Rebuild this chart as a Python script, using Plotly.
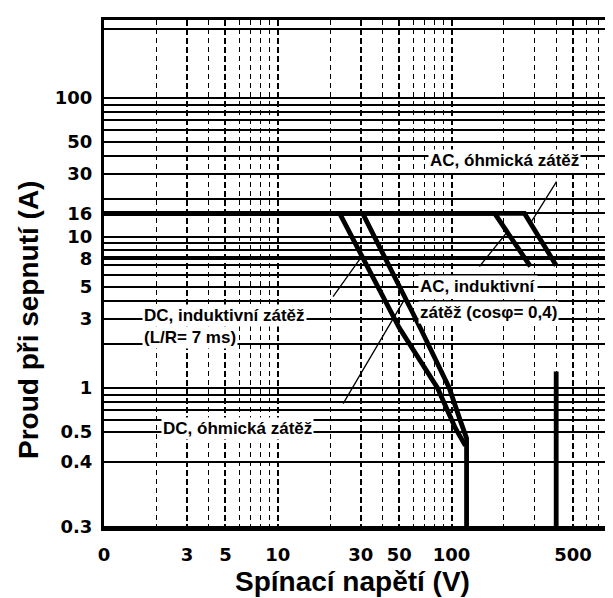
import numpy as np
import plotly.graph_objects as go

# ---- tick labels (as printed on the chart) ----
x_tick_vals = [1, 3, 5, 10, 30, 50, 100, 500]
x_tick_text = ["0", "3", "5", "10", "30", "50", "100", "500"]
# positions (A, on the log scale) at which each printed label sits on the scanned axis
y_tick_vals = [0.11, 0.31, 0.5, 1, 3, 5, 7.8, 11, 16, 30, 50, 100]
y_tick_text = ["0.3", "0.4", "0.5", "1", "3", "5", "8", "10", "16", "30", "50", "100"]
x_minor_vals = [2, 4, 6, 7, 8, 9, 20, 40, 60, 70, 80, 90, 200, 300, 400, 600, 700, 800, 900]
y_minor_vals = [0.6, 0.7, 0.8, 0.9, 2, 4, 6, 7, 8, 9, 10, 20, 40, 60, 70, 80, 90, 300]

# ---- curves: switching voltage (V) vs switching current (A) ----
dc_ind_v = [1, 22.7, 50, 83, 105, 120]
dc_ind_i = [16, 16, 2.6, 1.0, 0.53, 0.4]
dc_res_v = [1, 30.8, 66, 97, 112, 122, 122]
dc_res_i = [16, 16, 2.6, 1.0, 0.6, 0.45, 0.1]
ac_ind_v = [1, 177, 284]
ac_ind_i = [16, 16, 6.9]
ac_res_v = [1, 263, 400]
ac_res_i = [16, 16, 7.0]
ac_lim_v = [400, 400]
ac_lim_i = [1.3, 0.1]

W, H = 613, 598
ML, MR, MT, MB = 96, 0, 12, 78
PW, PH = W - ML - MR, H - MT - MB

TEXTF = "Liberation Sans, Arial, sans-serif"
TICKF = "DejaVu Sans, Verdana, sans-serif"


def px2paper(px, py):
    return (px - ML) / PW, (H - MB - py) / PH


def tip_on(vs, is_, i_target):
    v = np.log10(np.array(vs[1:], dtype=float))
    i = np.log10(np.array(is_[1:], dtype=float))
    lv = float(np.interp(np.log10(i_target), i[::-1], v[::-1]))
    return lv, float(np.log10(i_target))


fig = go.Figure()
line_style = dict(color="black", width=4.8)
for name, xv, yv in [
    ("DC, induktivní zátěž", dc_ind_v, dc_ind_i),
    ("DC, óhmická zátěž", dc_res_v, dc_res_i),
    ("AC, induktivní zátěž", ac_ind_v, ac_ind_i),
    ("AC, óhmická zátěž", ac_res_v, ac_res_i),
    ("AC limit", ac_lim_v, ac_lim_i),
]:
    fig.add_trace(go.Scatter(x=xv, y=yv, mode="lines", name=name,
                             line=line_style, showlegend=False, hoverinfo="skip"))

label_font = dict(family=TEXTF, size=17, color="black", weight="bold")
labels = [
    ("AC, óhmická zátěž", 420, 153),
    ("AC, induktivní", 410, 278),
    ("zátěž (cosφ= 0,4)", 410, 304),
    ("DC, induktivní zátěž", 134, 307),
    ("(L/R= 7 ms)", 134, 329),
    ("DC, óhmická zátěž", 153, 420),
]
for txt, px, py in labels:
    ax_, ay_ = px2paper(px, py)
    fig.add_annotation(x=ax_, y=ay_, xref="paper", yref="paper", text=txt,
                       showarrow=False, xanchor="left", yanchor="middle",
                       align="left", font=label_font, bgcolor="white", borderpad=1)

leaders = [
    (ac_res_v, ac_res_i, 13.7, 27, -43),
    (ac_ind_v, ac_ind_i, 11.9, -29, 36),
    (dc_ind_v, dc_ind_i, 8.1, -30, 42),
    (dc_res_v[:5], dc_res_i[:5], 4.17, -63, 107),
]
for vs, is_, it, axo, ayo in leaders:
    lx, ly = tip_on(vs, is_, it)
    fig.add_annotation(x=lx, y=ly, xref="x", yref="y", text="", showarrow=True,
                       arrowhead=0, arrowwidth=1.3, arrowcolor="black",
                       ax=axo, ay=ayo, standoff=0, startstandoff=0)

tx, ty = px2paper(344, 573)
fig.add_annotation(x=tx, y=ty, xref="paper", yref="paper", text="Spínací napětí (V)",
                   showarrow=False, xanchor="center", yanchor="middle",
                   font=dict(family=TEXTF, size=28, color="black", weight="bold"))
tx, ty = px2paper(20, 312)
fig.add_annotation(x=tx, y=ty, xref="paper", yref="paper", text="Proud při sepnutí (A)",
                   showarrow=False, xanchor="center", yanchor="middle", textangle=-90,
                   font=dict(family=TEXTF, size=28, color="black", weight="bold"))

fig.update_xaxes(
    type="log", range=[0, 2.975],
    tickmode="array", tickvals=x_tick_vals, ticktext=x_tick_text,
    tickfont=dict(family=TICKF, size=18, color="black", weight="bold"),
    ticks="", ticklabelstandoff=8,
    showgrid=True, gridcolor="black", gridwidth=1.5, griddash="6px,3px",
    minor=dict(tickmode="array", tickvals=x_minor_vals, showgrid=True,
               gridcolor="black", gridwidth=1.2, griddash="5px,4px", ticks=""),
    showline=True, linecolor="black", linewidth=3, mirror=True, zeroline=False,
)
fig.update_yaxes(
    type="log", range=[-0.966, 2.538],
    tickmode="array", tickvals=y_tick_vals, ticktext=y_tick_text,
    tickfont=dict(family=TICKF, size=18, color="black", weight="bold"),
    ticks="", ticklabelstandoff=5,
    showgrid=True, gridcolor="black", gridwidth=2.2,
    minor=dict(tickmode="array", tickvals=y_minor_vals, showgrid=True,
               gridcolor="black", gridwidth=2, ticks=""),
    showline=True, linecolor="black", linewidth=3, mirror=False, zeroline=False,
)

fig.update_layout(
    width=W, height=H,
    margin=dict(l=ML, r=MR, t=MT, b=MB, pad=0),
    paper_bgcolor="white", plot_bgcolor="white",
    showlegend=False,
)

fig.write_html("out.html")
